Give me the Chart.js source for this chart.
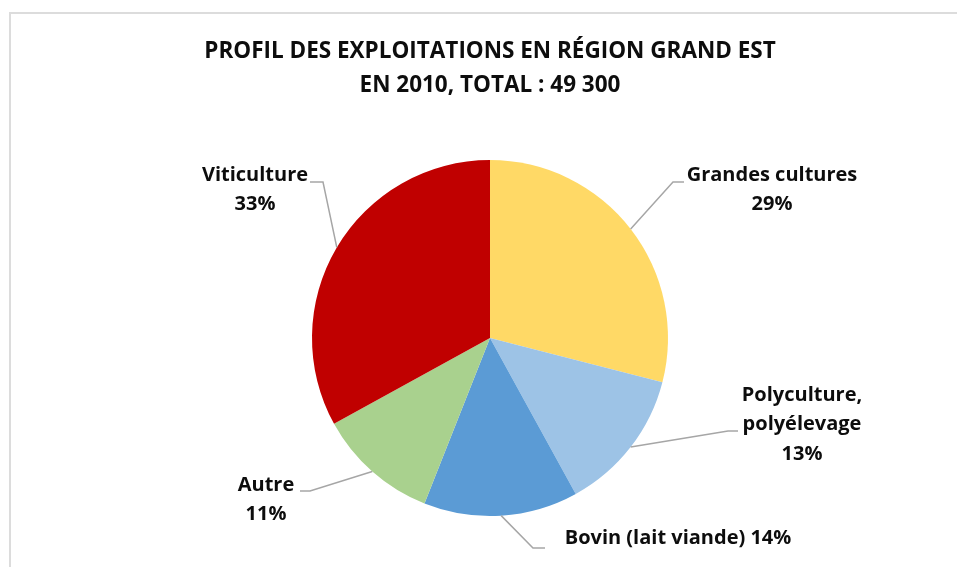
<!DOCTYPE html>
<html lang="fr">
<head>
<meta charset="utf-8">
<title>Profil des exploitations en région Grand Est</title>
<script src="https://cdn.jsdelivr.net/npm/chart.js@4.4.1/dist/chart.umd.min.js"></script>
<style>
    html, body { margin: 0; padding: 0; background: #fff; overflow: hidden; }
    .frame {
        position: absolute; left: 9px; top: 12px;
        width: 1200px; height: 800px;
        border-top: 2px solid #dcdcdc; border-left: 2px solid #dcdcdc;
    }
    .chart-box { position: absolute; left: 0; top: 0; width: 957px; height: 567px; }
</style>
</head>
<body>
<div class="frame"></div>
<div class="chart-box"><canvas id="profil-chart"></canvas></div>
<script>
// --- Données ---
const titleLines = ['PROFIL DES EXPLOITATIONS EN RÉGION GRAND EST', 'EN 2010, TOTAL : 49 300'];
const categories = ['Grandes cultures', 'Polyculture, polyélevage', 'Bovin (lait viande)', 'Autre', 'Viticulture'];
const shares = [29, 13, 14, 11, 33];
const sliceColors = ['#FFD966', '#9DC3E6', '#5B9BD5', '#A9D18E', '#C00000'];

// Position des étiquettes et coude des traits de rappel (un par part)
const labelLayout = [
    { x: 772, y: 175, elbow: [673, 182], end: [684, 182] },
    { x: 802, y: 395, elbow: [728, 431], end: [738, 431] },
    { x: 678, y: 538, elbow: [533, 548], end: [545, 548], inline: true },
    { x: 266, y: 485, elbow: [310, 491], end: [300, 491] },
    { x: 255, y: 175, elbow: [323, 182], end: [310, 182] }
];

const fontFamily = '"Open Sans", Lato, sans-serif';
const labelFont = 'bold 20px ' + fontFamily;
const lineGap = 29.5;

function labelLines(i) {
    const pct = shares[i] + '%';
    if (labelLayout[i].inline) return [categories[i] + ' ' + pct];
    const parts = categories[i].split(', ');
    const lines = parts.map((p, k) => k < parts.length - 1 ? p + ',' : p);
    lines.push(pct);
    return lines;
}

// Étiquettes extérieures avec traits de rappel
const outsideLabels = {
    id: 'outsideLabels',
    afterDatasetsDraw(chart) {
        const ctx = chart.ctx;
        const arcs = chart.getDatasetMeta(0).data;
        ctx.save();
        arcs.forEach((arc, i) => {
            const lay = labelLayout[i];
            const mid = (arc.startAngle + arc.endAngle) / 2;
            const ax = arc.x + Math.cos(mid) * arc.outerRadius;
            const ay = arc.y + Math.sin(mid) * arc.outerRadius;

            ctx.strokeStyle = '#a6a6a6';
            ctx.lineWidth = 1.5;
            ctx.beginPath();
            ctx.moveTo(ax, ay);
            ctx.lineTo(lay.elbow[0], lay.elbow[1]);
            ctx.lineTo(lay.end[0], lay.end[1]);
            ctx.stroke();

            ctx.fillStyle = '#0d0d0d';
            ctx.font = labelFont;
            ctx.textAlign = 'center';
            ctx.textBaseline = 'middle';
            labelLines(i).forEach((line, k) => {
                ctx.fillText(line, lay.x, lay.y + k * lineGap);
            });
        });
        ctx.restore();
    }
};

new Chart(document.getElementById('profil-chart').getContext('2d'), {
    type: 'pie',
    data: {
        labels: categories,
        datasets: [{
            data: shares,
            backgroundColor: sliceColors,
            borderWidth: 0
        }]
    },
    options: {
        responsive: true,
        maintainAspectRatio: false,
        animation: false,
        layout: { padding: { left: 23, right: 0, top: 0, bottom: 51 } },
        plugins: {
            legend: { display: false },
            tooltip: { enabled: false },
            title: {
                display: true,
                text: titleLines,
                color: '#0d0d0d',
                font: { family: fontFamily, size: 22.5, weight: 'bold', lineHeight: 1.52 },
                padding: { top: 34, bottom: 57.6 }
            }
        }
    },
    plugins: [outsideLabels]
});
</script>
</body>
</html>
